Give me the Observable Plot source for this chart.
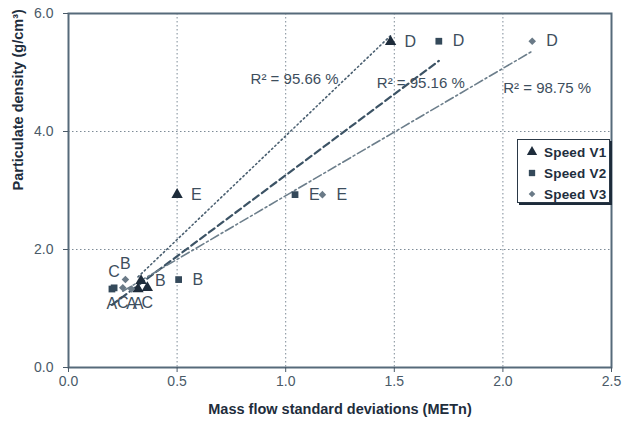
<!DOCTYPE html>
<html>
<head>
<meta charset="utf-8">
<script src="https://cdn.jsdelivr.net/npm/d3@7"></script>
<script src="https://cdn.jsdelivr.net/npm/@observablehq/plot@0.6"></script>
<style>
  html, body { margin: 0; padding: 0; background: #fff; }
  #wrap { position: relative; width: 624px; height: 432px; font-family: "Liberation Sans", Arial, sans-serif; }
  #legend { position: absolute; left: 517px; top: 139px; width: 93px; height: 64px; background: #fff;
            border: 1px solid #2a3846; box-shadow: 2px 2px 0 #1d2b3a; box-sizing: border-box; }
  .lrow { position: absolute; left: 0; height: 20px; display: flex; align-items: center; }
  .lrow svg { margin-left: 8px; }
  .lrow span { margin-left: 6px; font-weight: bold; font-size: 13.5px; color: #1f2f3e; letter-spacing: 0.2px; }
</style>
</head>
<body>
<div id="wrap"></div>
<script>
// ---- data ----
const conditions = ["A", "B", "C", "D", "E"];
const seriesNames = ["Speed V1", "Speed V2", "Speed V3"];
const v1X = [0.32, 0.334, 0.363, 1.483, 0.50];
const v1Y = [1.33, 1.47, 1.35, 5.52, 2.93];
const v2X = [0.20, 0.507, 0.21, 1.705, 1.043];
const v2Y = [1.33, 1.49, 1.35, 5.53, 2.93];
const v3X = [0.29, 0.262, 0.25, 2.135, 1.169];
const v3Y = [1.33, 1.49, 1.35, 5.53, 2.93];
const r2Labels = ["R\u00B2 = 95.66 %", "R\u00B2 = 95.16 %", "R\u00B2 = 98.75 %"];
const xTicks = [0, 0.5, 1.0, 1.5, 2.0, 2.5];
const yTicks = [0, 2, 4, 6];
const xTitle = "Mass flow standard deviations (METn)";
const yTitle = "Particulate density (g/cm\u00B3)";

// ---- build tables ----
const allX = [v1X, v2X, v3X], allY = [v1Y, v2Y, v3Y];
const series = seriesNames.map((name, s) =>
  conditions.map((c, i) => ({series: name, s, cond: c, x: allX[s][i], y: allY[s][i]})));

const markerSymbol = ["triangle", "square", "diamond2"];
const markerFill = ["#1e2c3b", "#34495a", "#6a7a87"];
const markerR = [4.2, 3.8, 3.4];
const lineStroke = ["#4a5f70", "#3c5365", "#6c7e8b"];
const lineDash = ["1.4,3", "7,4", "9,3,2,3"];
const lineWidth = [1.6, 2.2, 1.6];
const r2dx = [-96, -18, 15];
const r2dy = [37, 42, 47];
const textColor = "#3d4e5d";

// label placement (the reference's labels sit right, below or above their markers)
const placement = d => {
  if (d.cond === "B" && d.s === 2) return "above";
  if (d.cond === "C" && d.s === 1) return "above";
  if (d.cond === "A" || d.cond === "C") return "below";
  return "right";
};

const marks = [
  Plot.gridX(xTicks.slice(1, -1), {stroke: "#7d8b97", strokeOpacity: 1, strokeDasharray: "1.5,2.5", strokeWidth: 1}),
  Plot.gridY(yTicks.slice(1, -1), {stroke: "#7d8b97", strokeOpacity: 1, strokeDasharray: "1.5,2.5", strokeWidth: 1}),
  Plot.frame({stroke: "#566a7a", strokeWidth: 2}),
  Plot.axisX({ticks: xTicks, tickFormat: d => d.toFixed(1), tickSize: 5, tickPadding: 4, fontSize: 14, color: "#4a5a68", label: null}),
  Plot.axisY({ticks: yTicks, tickFormat: d => d.toFixed(1), tickSize: 5, tickPadding: 10, fontSize: 14, color: "#4a5a68", label: null}),
];

series.forEach((data, s) => {
  marks.push(Plot.linearRegressionY(data, {x: "x", y: "y", ci: 0, stroke: lineStroke[s],
    strokeWidth: lineWidth[s], strokeDasharray: lineDash[s]}));
});
series.forEach((data, s) => {
  marks.push(Plot.dot(data, {x: "x", y: "y", symbol: () => markerSymbol[s], r: markerR[s], fill: markerFill[s], stroke: "none"}));
});
series.forEach((data, s) => {
  marks.push(Plot.text(data.filter(d => placement(d) === "right"), {x: "x", y: "y", text: "cond", textAnchor: "start", dx: 14, fontSize: 16, fill: textColor}));
  marks.push(Plot.text(data.filter(d => placement(d) === "below"), {x: "x", y: "y", text: "cond", textAnchor: "middle", dy: 15, fontSize: 16, fill: textColor}));
  marks.push(Plot.text(data.filter(d => placement(d) === "above"), {x: "x", y: "y", text: "cond", textAnchor: "middle", dy: -16, fontSize: 16, fill: textColor}));
  marks.push(Plot.text(data.filter(d => d.cond === "D"), {x: "x", y: "y", text: () => r2Labels[s], dx: r2dx[s], dy: r2dy[s], fontSize: 15, fill: textColor}));
});
marks.push(Plot.text([xTitle], {frameAnchor: "bottom", dy: 46, text: d => d, fontSize: 14.5, fontWeight: "bold", fill: "#1e2d3c"}));
marks.push(Plot.text([yTitle], {frameAnchor: "left", dx: -50, rotate: -90, text: d => d, fontSize: 14.5, fontWeight: "bold", fill: "#1e2d3c"}));

const chart = Plot.plot({
  width: 624, height: 432,
  marginLeft: 68, marginRight: 13, marginTop: 13, marginBottom: 65,
  x: {domain: [0, 2.5]},
  y: {domain: [0, 6]},
  symbol: {type: "identity"},
  style: {fontFamily: "'Liberation Sans', Arial, sans-serif", background: "#fff", overflow: "visible"},
  marks
});
const wrap = document.getElementById("wrap");
wrap.appendChild(chart);

// legend box (inside plot area, as in the reference)
const legend = document.createElement("div");
legend.id = "legend";
const symPaths = [d3.symbol(d3.symbolTriangle, 46)(), d3.symbol(d3.symbolSquare, 40)(), d3.symbol(d3.symbolDiamond2, 28)()];
seriesNames.forEach((name, s) => {
  const row = document.createElement("div");
  row.className = "lrow";
  row.style.top = (2 + s * 21) + "px";
  row.innerHTML = `<svg width="12" height="12" viewBox="-6 -6 12 12"><path d="${symPaths[s]}" fill="${markerFill[s]}"></path></svg><span>${name}</span>`;
  legend.appendChild(row);
});
wrap.appendChild(legend);
</script>
</body>
</html>
